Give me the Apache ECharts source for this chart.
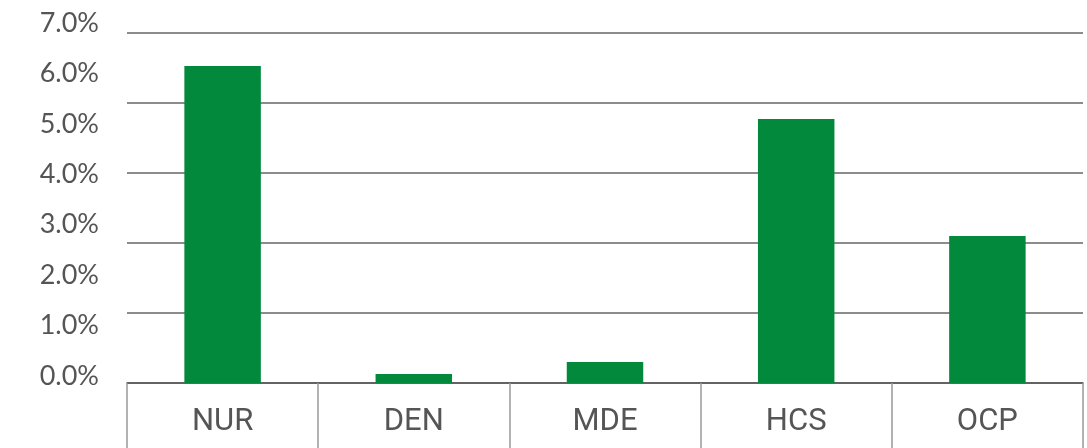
<!DOCTYPE html>
<html>
<head>
<meta charset="utf-8">
<script src="https://cdn.jsdelivr.net/npm/echarts@6/dist/echarts.min.js"></script>
<style>
  html, body { margin: 0; padding: 0; background: #fff; }
  #chart { width: 1087px; height: 448px; }
</style>
</head>
<body>
<div id="chart"></div>
<script>
// data
var categories = ['NUR', 'DEN', 'MDE', 'HCS', 'OCP'];
var rates = [6.34, 0.18, 0.42, 5.28, 2.94];
var tickLabels = ['0.0%', '1.0%', '2.0%', '3.0%', '4.0%', '5.0%', '6.0%', '7.0%'];

var chart = echarts.init(document.getElementById('chart'));

var option = {
  animation: false,
  grid: [
    // plot area
    { left: 127, right: 4, top: 33, bottom: 65 },
    // only used to place the percent labels
    { left: 127, right: 4, top: 23, bottom: 72 }
  ],
  xAxis: [
    {
      type: 'category',
      gridIndex: 0,
      data: categories,
      axisLine: { lineStyle: { color: '#555', width: 1.5 } },
      axisTick: { show: true, length: 66, lineStyle: { color: '#999', width: 1.5 } },
      axisLabel: {
        margin: 24,
        fontFamily: 'Roboto',
        fontSize: 31,
        color: '#555'
      }
    },
    {
      type: 'category',
      gridIndex: 1,
      data: categories,
      show: false
    }
  ],
  yAxis: [
    {
      type: 'value',
      gridIndex: 0,
      min: 0,
      max: 7,
      interval: 1.4,
      axisLabel: { show: false },
      axisLine: { show: false },
      axisTick: { show: false },
      splitLine: { lineStyle: { color: '#666', width: 1.5 } }
    },
    {
      type: 'value',
      gridIndex: 1,
      min: 0,
      max: 7,
      interval: 1,
      axisLine: { show: false },
      axisTick: { show: false },
      splitLine: { show: false },
      axisLabel: {
        margin: 28,
        fontFamily: 'Lato',
        fontSize: 27,
        color: '#555',
        formatter: function (v) { return tickLabels[Math.round(v)]; }
      }
    }
  ],
  series: [
    {
      type: 'bar',
      xAxisIndex: 0,
      yAxisIndex: 0,
      data: rates,
      barWidth: '40%',
      itemStyle: { color: '#02893B' }
    }
  ]
};

chart.setOption(option);
</script>
</body>
</html>
